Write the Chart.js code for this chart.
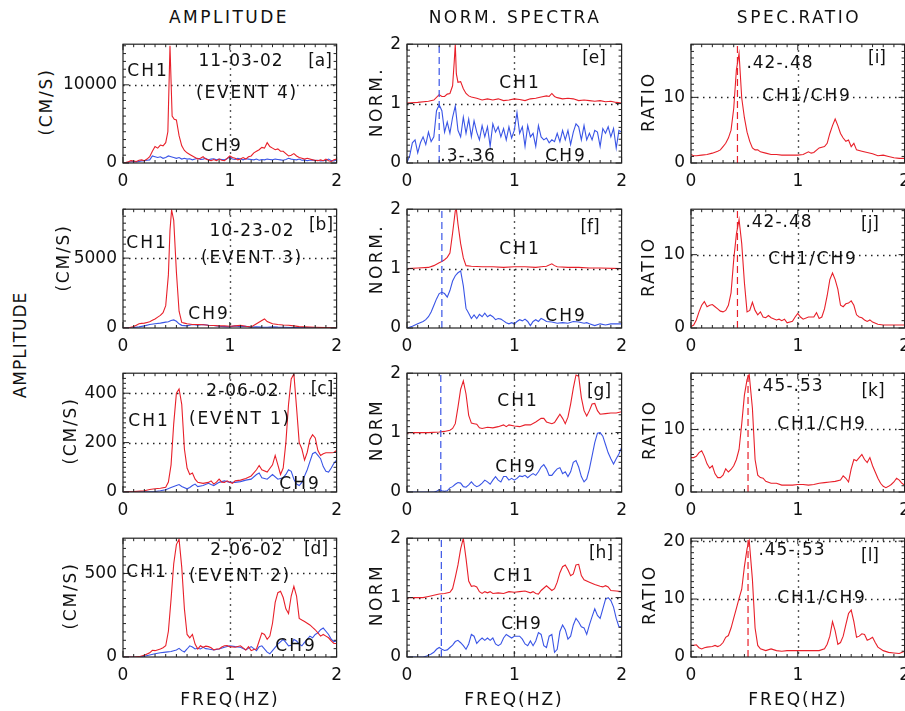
<!DOCTYPE html>
<html>
<head>
<meta charset="utf-8">
<script src="https://cdn.jsdelivr.net/npm/chart.js@4.4.0/dist/chart.umd.min.js"></script>
<style>
html, body { margin: 0; padding: 0; background: #fff; overflow: hidden; width: 905px; height: 711px; }
#page { position: relative; width: 905px; height: 711px; overflow: hidden; }
#page canvas { position: absolute; }
.lbl { position: absolute; font-family: 'DejaVu Sans', sans-serif; font-size: 17px; color: #111;
       white-space: nowrap; transform: translate(-50%, -50%); }
.rot { transform: translate(-50%, -50%) rotate(-90deg); }
</style>
</head>
<body>
<div id="page"></div>
<script>
const RED = '#e8202a'
const BLUE = '#3a55e6'
const FONT = "'DejaVu Sans', sans-serif"

//  x axis (Hz)
const X_TICKS = [0, 1, 2]

//  Amplitude spectra, [freq, cm/s]
const ampA_ch1 = [[0,0],[.025,50],[.05,150],[.075,300],[.1,250],[.125,200],[.15,350],[.175,400],[.2,300],[.225,500],[.25,800],[.275,1500],[.3,2100],[.325,1900],[.35,2300],[.375,2200],[.4,2600],[.42,4000],[.44,15000],[.46,6000],[.48,5600],[.5,5500],[.525,3500],[.55,2200],[.575,1600],[.6,1300],[.625,1100],[.65,900],[.675,700],[.7,500],[.725,600],[.75,800],[.775,500],[.8,400],[.825,300],[.85,450],[.875,300],[.9,500],[.925,350],[.95,300],[.975,600],[1,900],[1.025,700],[1.05,600],[1.075,400],[1.1,500],[1.125,700],[1.15,500],[1.175,800],[1.2,900],[1.225,1300],[1.25,1500],[1.275,1700],[1.3,2000],[1.325,1900],[1.35,2600],[1.375,2100],[1.4,1900],[1.425,1700],[1.45,1800],[1.475,1500],[1.5,1500],[1.525,1200],[1.55,900],[1.575,1000],[1.6,1200],[1.625,900],[1.65,700],[1.675,600],[1.7,500],[1.725,600],[1.75,500],[1.775,400],[1.8,350],[1.825,300],[1.85,400],[1.875,300],[1.9,500],[1.925,300],[1.95,200],[1.975,400],[2,500]]
const ampA_ch9 = [[0,0],[.025,50],[.05,100],[.075,150],[.1,200],[.125,150],[.15,200],[.175,250],[.2,300],[.225,350],[.25,400],[.275,900],[.3,800],[.325,700],[.35,800],[.375,600],[.4,700],[.425,900],[.45,800],[.475,700],[.5,600],[.525,700],[.55,500],[.575,600],[.6,500],[.625,550],[.65,400],[.675,500],[.7,600],[.725,450],[.75,500],[.775,600],[.8,400],[.825,500],[.85,550],[.875,400],[.9,500],[.925,450],[.95,400],[.975,550],[1,800],[1.025,500],[1.05,450],[1.075,600],[1.1,500],[1.125,400],[1.15,550],[1.175,500],[1.2,450],[1.225,400],[1.25,500],[1.275,350],[1.3,450],[1.325,400],[1.35,500],[1.375,450],[1.4,400],[1.425,500],[1.45,450],[1.475,400],[1.5,350],[1.525,450],[1.55,600],[1.575,500],[1.6,450],[1.625,400],[1.65,500],[1.675,350],[1.7,400],[1.725,300],[1.75,350],[1.775,400],[1.8,300],[1.825,350],[1.85,250],[1.875,300],[1.9,350],[1.925,500],[1.95,300],[1.975,250],[2,400]]

const ampB_ch1 = [[0,0],[.05,0],[.075,50],[.1,100],[.125,200],[.15,300],[.175,330],[.2,350],[.225,400],[.25,450],[.275,550],[.3,650],[.325,780],[.35,900],[.375,1100],[.4,1600],[.425,3800],[.44,7000],[.455,8450],[.475,7700],[.5,4000],[.525,1200],[.55,400],[.575,350],[.6,300],[.65,250],[.7,250],[.75,230],[.8,200],[.85,180],[.9,150],[.95,150],[1,120],[1.05,150],[1.1,185],[1.15,120],[1.2,70],[1.25,300],[1.3,530],[1.325,650],[1.35,460],[1.4,300],[1.45,250],[1.5,220],[1.55,200],[1.6,150],[1.65,100],[1.7,80],[1.8,50],[1.9,30],[2,20]]
const ampB_ch9 = [[0,0],[.1,30],[.15,80],[.2,150],[.25,250],[.3,300],[.35,350],[.4,420],[.425,450],[.45,530],[.475,580],[.5,480],[.525,300],[.55,190],[.6,150],[.65,250],[.7,200],[.75,250],[.8,200],[.85,180],[.9,120],[.95,100],[1,80],[1.05,150],[1.1,100],[1.15,120],[1.2,60],[1.25,80],[1.3,60],[1.35,50],[1.4,80],[1.45,60],[1.5,50],[1.6,40],[1.7,30],[1.8,20],[1.9,10],[2,10]]

const ampC_ch1 = [[0,0],[.1,2],[.2,5],[.25,10],[.3,13],[.35,15],[.4,19],[.425,40],[.45,110],[.475,277],[.5,400],[.525,417],[.55,355],[.575,174],[.6,97],[.625,71],[.65,77],[.675,52],[.7,39],[.75,35],[.8,39],[.825,45],[.85,32],[.875,40],[.9,52],[.925,40],[.95,39],[.975,45],[1,39],[1.025,35],[1.05,45],[1.1,48],[1.15,55],[1.2,65],[1.25,90],[1.275,107],[1.3,90],[1.35,81],[1.4,110],[1.425,148],[1.45,110],[1.475,71],[1.5,97],[1.525,200],[1.55,355],[1.575,458],[1.6,478],[1.625,342],[1.65,200],[1.675,174],[1.7,129],[1.725,161],[1.75,213],[1.775,232],[1.8,219],[1.825,168],[1.85,148],[1.875,155],[1.9,159],[1.95,159],[1.975,160],[2,168]]
const ampC_ch9 = [[0,0],[.3,2],[.35,5],[.4,9],[.45,18],[.5,26],[.525,30],[.55,22],[.6,13],[.625,18],[.65,26],[.675,32],[.7,22],[.75,26],[.8,35],[.825,30],[.85,26],[.9,39],[.95,45],[1,39],[1.05,39],[1.1,42],[1.15,48],[1.2,52],[1.25,71],[1.275,77],[1.3,58],[1.35,52],[1.4,71],[1.45,52],[1.5,58],[1.525,71],[1.55,90],[1.575,84],[1.6,52],[1.625,32],[1.65,26],[1.675,39],[1.7,65],[1.725,90],[1.75,123],[1.775,155],[1.8,161],[1.825,148],[1.85,135],[1.875,103],[1.9,84],[1.925,81],[1.95,97],[1.975,116],[2,129]]

const ampD_ch1 = [[0,0],[.1,0],[.15,2],[.2,10],[.25,25],[.275,40],[.3,38],[.35,48],[.375,55],[.4,67],[.425,154],[.45,346],[.475,558],[.5,673],[.525,705],[.55,538],[.575,288],[.6,135],[.625,115],[.65,135],[.675,77],[.7,48],[.725,67],[.75,58],[.775,65],[.8,62],[.825,55],[.85,42],[.875,48],[.9,48],[.925,60],[.95,67],[.975,68],[1,62],[1.05,58],[1.1,67],[1.125,55],[1.15,42],[1.175,62],[1.2,38],[1.225,45],[1.25,48],[1.275,96],[1.3,144],[1.325,135],[1.35,106],[1.375,125],[1.4,202],[1.425,327],[1.45,385],[1.475,394],[1.5,356],[1.525,288],[1.55,260],[1.575,365],[1.6,423],[1.625,365],[1.65,231],[1.675,221],[1.7,212],[1.725,202],[1.75,192],[1.775,177],[1.8,163],[1.825,144],[1.85,125],[1.875,135],[1.9,125],[1.925,115],[1.95,96],[1.975,81],[2,81]]
const ampD_ch9 = [[0,0],[.15,0],[.2,5],[.25,12],[.3,19],[.35,25],[.4,29],[.45,33],[.5,42],[.525,52],[.55,38],[.575,30],[.6,48],[.625,67],[.65,60],[.675,48],[.7,52],[.725,48],[.75,58],[.775,50],[.8,48],[.85,42],[.9,48],[.95,58],[1,67],[1.05,62],[1.1,58],[1.15,42],[1.2,62],[1.225,50],[1.25,38],[1.275,62],[1.3,67],[1.35,29],[1.375,19],[1.4,38],[1.45,77],[1.5,106],[1.525,87],[1.55,67],[1.575,70],[1.6,106],[1.625,96],[1.65,77],[1.675,67],[1.7,87],[1.725,106],[1.75,125],[1.775,115],[1.8,135],[1.825,144],[1.85,163],[1.875,173],[1.9,154],[1.925,135],[1.95,106],[1.975,92],[2,96]]

//  Normalised spectra (CH1 shifted up by 1)
const normE_ch1 = [[0,1.01],[.1,1.02],[.2,1.04],[.25,1.06],[.3,1.15],[.325,1.12],[.35,1.12],[.375,1.16],[.4,1.17],[.425,1.3],[.44,1.7],[.45,2.0],[.46,1.5],[.475,1.36],[.5,1.37],[.525,1.25],[.55,1.17],[.575,1.13],[.6,1.11],[.65,1.09],[.7,1.06],[.75,1.08],[.8,1.06],[.85,1.08],[.9,1.05],[.95,1.06],[1,1.08],[1.05,1.07],[1.1,1.05],[1.15,1.08],[1.2,1.09],[1.25,1.11],[1.3,1.13],[1.325,1.12],[1.35,1.17],[1.375,1.12],[1.4,1.1],[1.45,1.08],[1.5,1.09],[1.55,1.08],[1.6,1.05],[1.65,1.06],[1.7,1.05],[1.75,1.04],[1.8,1.05],[1.85,1.03],[1.9,1.04],[1.95,1.02],[2,1.01]]
const normE_ch9 = [[0,.01],[.025,.12],[.05,.34],[.075,.39],[.1,.17],[.125,.34],[.15,.44],[.175,.31],[.2,.52],[.225,.36],[.25,.44],[.275,.88],[.3,.98],[.325,.88],[.35,.52],[.375,.69],[.4,.5],[.425,.77],[.45,.96],[.475,.55],[.5,.44],[.525,.77],[.55,.5],[.575,.74],[.6,.44],[.625,.71],[.65,.52],[.675,.39],[.7,.63],[.725,.44],[.75,.61],[.775,.28],[.8,.66],[.825,.52],[.85,.61],[.875,.44],[.9,.58],[.925,.39],[.95,.61],[.975,.42],[1,.55],[1.025,.85],[1.05,.5],[1.075,.61],[1.1,.28],[1.125,.63],[1.15,.44],[1.175,.5],[1.2,.28],[1.225,.63],[1.25,.44],[1.275,.39],[1.3,.42],[1.325,.34],[1.35,.39],[1.375,.36],[1.4,.5],[1.425,.36],[1.45,.55],[1.475,.39],[1.5,.55],[1.525,.31],[1.55,.52],[1.575,.66],[1.6,.61],[1.625,.39],[1.65,.63],[1.675,.39],[1.7,.5],[1.725,.39],[1.75,.55],[1.775,.52],[1.8,.28],[1.825,.58],[1.85,.5],[1.875,.61],[1.9,.44],[1.925,.58],[1.95,.25],[1.975,.55],[2,.52]]

const normF_ch1 = [[0,1.0],[.1,1.01],[.2,1.02],[.25,1.05],[.3,1.1],[.325,1.12],[.35,1.15],[.375,1.19],[.4,1.26],[.425,1.6],[.45,1.97],[.46,2.0],[.475,1.75],[.5,1.42],[.525,1.18],[.55,1.05],[.6,1.04],[.7,1.03],[.8,1.03],[.9,1.02],[1,1.03],[1.1,1.03],[1.2,1.02],[1.25,1.03],[1.3,1.04],[1.35,1.08],[1.375,1.05],[1.4,1.03],[1.5,1.02],[1.6,1.02],[1.7,1.01],[1.8,1.01],[2,1.0]]
const normF_ch9 = [[0,0],[.05,.03],[.1,.07],[.15,.11],[.175,.14],[.2,.19],[.225,.27],[.25,.38],[.275,.49],[.3,.58],[.325,.6],[.35,.58],[.375,.52],[.4,.63],[.425,.79],[.45,.88],[.475,.93],[.5,.96],[.525,.71],[.55,.33],[.575,.25],[.6,.16],[.625,.22],[.65,.16],[.675,.23],[.7,.19],[.725,.25],[.75,.19],[.775,.22],[.8,.19],[.825,.14],[.85,.16],[.875,.15],[.9,.12],[.925,.09],[.95,.07],[.975,.09],[1,.07],[1.025,.11],[1.05,.14],[1.075,.12],[1.1,.15],[1.125,.11],[1.15,.04],[1.175,.11],[1.2,.14],[1.225,.11],[1.25,.16],[1.275,.14],[1.3,.11],[1.35,.1],[1.4,.08],[1.45,.09],[1.5,.08],[1.55,.11],[1.6,.1],[1.65,.08],[1.675,.09],[1.7,.07],[1.75,.04],[1.8,.07],[1.85,.05],[1.9,.07],[1.95,.07],[2,.07]]

const normG_ch1 = [[0,1.0],[.2,1.0],[.3,1.01],[.35,1.02],[.4,1.04],[.425,1.07],[.45,1.15],[.475,1.43],[.5,1.73],[.525,1.87],[.55,1.65],[.575,1.29],[.6,1.16],[.625,1.15],[.65,1.14],[.675,1.08],[.7,1.07],[.75,1.09],[.8,1.08],[.85,1.1],[.9,1.13],[.925,1.1],[.95,1.13],[1,1.11],[1.05,1.1],[1.1,1.13],[1.15,1.13],[1.2,1.18],[1.25,1.24],[1.275,1.24],[1.3,1.18],[1.35,1.15],[1.375,1.17],[1.4,1.24],[1.425,1.31],[1.45,1.24],[1.475,1.15],[1.5,1.26],[1.525,1.48],[1.55,1.75],[1.575,1.97],[1.6,1.95],[1.625,1.59],[1.65,1.37],[1.675,1.28],[1.7,1.37],[1.725,1.48],[1.75,1.49],[1.775,1.37],[1.8,1.31],[1.85,1.32],[1.9,1.33],[1.95,1.33],[2,1.35]]
const normG_ch9 = [[0,0],[.25,0],[.275,.01],[.3,.04],[.325,.02],[.35,.01],[.375,.02],[.4,.07],[.425,.09],[.45,.13],[.475,.16],[.5,.15],[.525,.09],[.55,.08],[.575,.12],[.6,.17],[.625,.12],[.65,.09],[.675,.11],[.7,.15],[.725,.2],[.75,.17],[.775,.13],[.8,.2],[.825,.26],[.85,.2],[.875,.17],[.9,.26],[.925,.26],[.95,.2],[.975,.23],[1,.2],[1.025,.23],[1.05,.27],[1.075,.26],[1.1,.28],[1.125,.24],[1.15,.28],[1.175,.31],[1.2,.28],[1.225,.34],[1.25,.42],[1.275,.46],[1.3,.39],[1.325,.28],[1.35,.28],[1.375,.34],[1.4,.39],[1.425,.41],[1.45,.31],[1.475,.34],[1.5,.26],[1.525,.34],[1.55,.5],[1.575,.53],[1.6,.42],[1.625,.26],[1.65,.17],[1.675,.22],[1.7,.39],[1.725,.61],[1.75,.83],[1.775,.99],[1.8,1.0],[1.825,.94],[1.85,.8],[1.875,.66],[1.9,.56],[1.925,.47],[1.95,.56],[1.975,.64],[2,.75]]

const normH_ch1 = [[0,1.0],[.15,1.0],[.2,1.02],[.25,1.04],[.3,1.06],[.35,1.07],[.4,1.09],[.425,1.15],[.45,1.34],[.475,1.55],[.5,1.82],[.525,2.0],[.55,1.66],[.575,1.28],[.6,1.19],[.625,1.2],[.65,1.18],[.675,1.1],[.7,1.07],[.725,1.1],[.75,1.08],[.775,1.1],[.8,1.07],[.85,1.08],[.9,1.07],[.95,1.1],[1,1.09],[1.05,1.1],[1.1,1.11],[1.15,1.08],[1.175,1.1],[1.2,1.07],[1.225,1.06],[1.25,1.12],[1.3,1.2],[1.35,1.12],[1.375,1.15],[1.4,1.26],[1.425,1.42],[1.45,1.52],[1.475,1.55],[1.5,1.47],[1.525,1.37],[1.55,1.4],[1.575,1.55],[1.6,1.56],[1.625,1.37],[1.65,1.3],[1.7,1.26],[1.75,1.22],[1.8,1.19],[1.825,1.18],[1.85,1.2],[1.875,1.18],[1.9,1.12],[1.95,1.11],[2,1.1]]
const normH_ch9 = [[0,0],[.15,0],[.175,.01],[.2,.03],[.225,.05],[.25,.08],[.275,.13],[.3,.16],[.325,.13],[.35,.11],[.375,.12],[.4,.16],[.425,.2],[.45,.26],[.475,.28],[.5,.24],[.525,.19],[.55,.13],[.575,.22],[.6,.38],[.625,.35],[.65,.23],[.675,.28],[.7,.32],[.725,.28],[.75,.32],[.775,.28],[.8,.32],[.825,.22],[.85,.19],[.875,.22],[.9,.32],[.925,.38],[.95,.35],[.975,.32],[1,.35],[1.05,.35],[1.075,.3],[1.1,.22],[1.125,.19],[1.15,.27],[1.175,.19],[1.2,.27],[1.225,.41],[1.25,.38],[1.275,.19],[1.3,.16],[1.325,.35],[1.35,.38],[1.375,.08],[1.4,.13],[1.425,.43],[1.45,.54],[1.475,.46],[1.5,.3],[1.525,.35],[1.55,.54],[1.575,.65],[1.6,.59],[1.625,.51],[1.65,.49],[1.675,.38],[1.7,.54],[1.725,.68],[1.75,.81],[1.775,.7],[1.8,.65],[1.825,.81],[1.85,.97],[1.875,1.0],[1.9,.95],[1.925,.84],[1.95,.65],[1.975,.51],[2,.51]]

//  Spectral ratios CH1/CH9
const ratioI = [[0,1.3],[.025,1.1],[.05,1.1],[.1,1.2],[.15,1.3],[.2,1.5],[.25,1.8],[.275,2.0],[.3,2.5],[.325,3.0],[.35,3.8],[.375,5.0],[.4,8.3],[.425,14.2],[.45,16.7],[.475,9.9],[.5,6.9],[.525,4.7],[.55,3.3],[.575,2.3],[.6,2.0],[.625,2.0],[.65,1.7],[.7,1.5],[.75,1.3],[.8,1.3],[.85,1.2],[.9,1.2],[.95,1.2],[1,1.2],[1.05,1.3],[1.1,1.7],[1.125,1.5],[1.15,1.6],[1.2,2.3],[1.25,2.5],[1.275,3.0],[1.3,4.5],[1.325,5.7],[1.35,6.7],[1.375,5.7],[1.4,4.5],[1.425,3.8],[1.45,3.3],[1.475,3.5],[1.5,2.5],[1.525,3.0],[1.55,2.0],[1.6,1.8],[1.65,1.6],[1.7,1.4],[1.75,1.1],[1.8,1.2],[1.85,1.0],[1.9,.8],[1.95,.7],[2,.7]]
const ratioJ = [[0,.2],[.025,.4],[.05,1.1],[.075,2.2],[.1,3.1],[.125,3.6],[.15,2.9],[.175,3.1],[.2,3.2],[.225,2.9],[.25,2.6],[.275,2.3],[.3,2.2],[.325,2.4],[.35,3.1],[.375,4.8],[.4,9.3],[.425,12.8],[.45,14.8],[.475,11.5],[.5,6.2],[.525,2.2],[.55,2.4],[.575,3.5],[.6,2.4],[.625,1.8],[.65,2.2],[.675,1.5],[.7,1.4],[.725,1.7],[.75,1.4],[.8,1.1],[.825,1.2],[.85,1.0],[.875,1.2],[.9,.7],[.95,.9],[.975,1.5],[1,2.0],[1.025,1.5],[1.05,1.2],[1.1,1.5],[1.15,1.5],[1.175,2.1],[1.2,1.3],[1.225,1.5],[1.25,2.6],[1.275,4.4],[1.3,6.6],[1.325,7.5],[1.35,6.6],[1.375,5.3],[1.4,3.1],[1.425,2.9],[1.45,3.3],[1.475,3.4],[1.5,3.7],[1.525,3.1],[1.55,1.8],[1.575,1.5],[1.6,1.4],[1.625,1.1],[1.65,.9],[1.675,1.1],[1.7,.8],[1.75,.5],[1.8,.4],[1.85,.4],[1.9,.4],[1.95,.4],[2,.4]]
const ratioK = [[0,5.5],[.025,5.5],[.05,5.7],[.075,6.3],[.1,6.6],[.125,5.7],[.15,4.5],[.175,3.8],[.2,4.2],[.225,2.9],[.25,2.3],[.275,2.3],[.3,2.7],[.325,3.7],[.35,3.2],[.375,3.6],[.4,4.2],[.425,5.2],[.45,6.8],[.475,10.9],[.5,15.5],[.525,18.0],[.545,18.8],[.575,13.4],[.6,5.2],[.625,2.7],[.65,2.3],[.675,2.2],[.7,1.7],[.75,1.4],[.8,1.4],[.85,1.1],[.9,1.1],[.95,1.1],[1,1.2],[1.05,1.2],[1.1,1.1],[1.15,1.2],[1.2,1.4],[1.25,1.5],[1.3,1.6],[1.35,1.7],[1.4,1.9],[1.425,2.6],[1.45,2.2],[1.475,1.6],[1.5,3.7],[1.525,5.2],[1.55,5.0],[1.575,5.5],[1.6,6.0],[1.625,5.2],[1.65,4.7],[1.675,5.5],[1.7,4.2],[1.725,3.2],[1.75,2.2],[1.775,1.4],[1.8,.9],[1.825,.7],[1.85,.9],[1.875,1.2],[1.9,1.6],[1.925,2.2],[1.95,1.9],[1.975,1.4],[2,1.1]]
const ratioL = [[0,2.0],[.025,2.0],[.05,2.1],[.075,1.6],[.1,1.4],[.125,1.6],[.15,1.7],[.2,1.8],[.225,2.0],[.25,1.8],[.275,2.0],[.3,2.5],[.325,3.4],[.35,3.7],[.375,5.0],[.4,6.7],[.425,8.4],[.45,10.1],[.475,11.7],[.5,15.6],[.525,18.7],[.545,20.1],[.575,13.4],[.6,5.0],[.625,2.0],[.65,1.4],[.7,1.1],[.75,1.4],[.8,1.1],[.85,1.0],[.9,1.1],[1,1.1],[1.1,1.1],[1.2,1.1],[1.25,1.4],[1.275,2.2],[1.3,3.6],[1.325,6.1],[1.35,4.5],[1.375,2.2],[1.4,2.5],[1.425,3.6],[1.45,5.6],[1.475,7.5],[1.5,8.1],[1.525,6.1],[1.55,3.4],[1.575,3.6],[1.6,4.0],[1.625,3.9],[1.65,2.9],[1.675,3.1],[1.7,3.4],[1.725,2.5],[1.75,1.7],[1.8,1.1],[1.85,.8],[1.9,.7],[1.95,.6],[2,1.0]]


//  Layout

const COL_X = [123, 407, 691]
const COL_W = [215, 216, 215]
const ROW_Y = [40, 205, 369, 534]
const ROW_H = 123
const PAD_L = 60, PAD_T = 12, PAD_R = 12, PAD_B = 40

const panels = [
    { col: 0, row: 0, yMax: 15200, yTicks: [0, 10000], yGrid: [10000], yMinor: 1000, lines: [[ampA_ch1, RED], [ampA_ch9, BLUE]] },
    { col: 0, row: 1, yMax: 8500,  yTicks: [0, 5000],  yGrid: [5000],  yMinor: 500,  lines: [[ampB_ch1, RED], [ampB_ch9, BLUE]] },
    { col: 0, row: 2, yMax: 481,   yTicks: [0, 200, 400], yGrid: [200, 400], yMinor: 20, lines: [[ampC_ch1, RED], [ampC_ch9, BLUE]] },
    { col: 0, row: 3, yMax: 711,   yTicks: [0, 500],   yGrid: [500],   yMinor: 50,   lines: [[ampD_ch1, RED], [ampD_ch9, BLUE]] },
    { col: 1, row: 0, yMax: 2, yTicks: [0, 1, 2], yGrid: [1], yMinor: 0.1, lines: [[normE_ch1, RED], [normE_ch9, BLUE]], mark: [0.30, BLUE] },
    { col: 1, row: 1, yMax: 2, yTicks: [0, 1, 2], yGrid: [1], yMinor: 0.1, lines: [[normF_ch1, RED], [normF_ch9, BLUE]], mark: [0.325, BLUE] },
    { col: 1, row: 2, yMax: 2, yTicks: [0, 1, 2], yGrid: [1], yMinor: 0.1, lines: [[normG_ch1, RED], [normG_ch9, BLUE]], mark: [0.315, BLUE] },
    { col: 1, row: 3, yMax: 2, yTicks: [0, 1, 2], yGrid: [1], yMinor: 0.1, lines: [[normH_ch1, RED], [normH_ch9, BLUE]], mark: [0.32, BLUE] },
    { col: 2, row: 0, yMax: 18.1, yTicks: [0, 10], yGrid: [10], yMinor: 1, lines: [[ratioI, RED]], mark: [0.435, RED] },
    { col: 2, row: 1, yMax: 16.2, yTicks: [0, 10], yGrid: [10], yMinor: 1, lines: [[ratioJ, RED]], mark: [0.435, RED] },
    { col: 2, row: 2, yMax: 19,   yTicks: [0, 10], yGrid: [10], yMinor: 1, lines: [[ratioK, RED]], mark: [0.534, RED] },
    { col: 2, row: 3, yMax: 20.5, yTicks: [0, 10, 20], yGrid: [10, 20], yMinor: 1, lines: [[ratioL, RED]], mark: [0.534, RED] },
]

//  text: [string, centre x, centre y, letter spacing, rotated]
const notes = [
    ['AMPLITUDE', 229, 17, 2.5], ['NORM. SPECTRA', 515, 17, 2.5], ['SPEC.RATIO', 799, 17, 2.5],
    ['AMPLITUDE', 20, 345, 1, true],
    ['(CM/S)', 46, 102, 1.8, true], ['(CM/S)', 63, 258, 1.8, true], ['(CM/S)', 70, 431, 1.8, true], ['(CM/S)', 70, 596, 1.8, true],
    ['NORM.', 376, 102, 2.5, true], ['NORM.', 376, 259, 2.5, true], ['NORM', 376, 430, 2.5, true], ['NORM', 376, 595, 2.5, true],
    ['RATIO', 648, 102, 2, true], ['RATIO', 648, 267, 2, true], ['RATIO', 649, 430, 2, true], ['RATIO', 649, 595, 2, true],
    ['FREQ(HZ)', 230, 699, 2], ['FREQ(HZ)', 514, 699, 2], ['FREQ(HZ)', 798, 699, 2],
    // [a]
    ['CH1', 148, 70, 2], ['11-03-02', 241, 60, 1], ['[a]', 320, 60, 0], ['(EVENT 4)', 247, 92, 1.8], ['CH9', 222, 145, 2],
    // [b]
    ['CH1', 147, 242, 2], ['10-23-02', 252, 230, 1], ['[b]', 321, 224, 0], ['(EVENT 3)', 252, 257, 1.8], ['CH9', 209, 313, 2],
    // [c]
    ['CH1', 149, 420, 2], ['2-06-02', 243, 390, 1], ['[c]', 322, 388, 0], ['(EVENT 1)', 240, 418, 1.8], ['CH9', 300, 483, 2],
    // [d]
    ['CH1', 147, 571, 2], ['2-06-02', 247, 549, 1], ['[d]', 316, 548, 0], ['(EVENT 2)', 240, 575, 1.8], ['CH9', 296, 645, 2],
    // [e]-[h]
    ['[e]', 594, 57, 0], ['CH1', 520, 82, 2], ['.3-.36', 468, 155, 1], ['CH9', 566, 155, 2],
    ['[f]', 590, 226, 0], ['CH1', 520, 248, 2], ['CH9', 566, 315, 2],
    ['[g]', 599, 390, 0], ['CH1', 518, 400, 2], ['CH9', 516, 466, 2],
    ['[h]', 601, 552, 0], ['CH1', 514, 575, 2], ['CH9', 522, 623, 2],
    // [i]-[l]
    ['.42-.48', 780, 62, 1], ['[i]', 877, 57, 0], ['CH1/CH9', 807, 95, 1.8],
    ['.42-.48', 779, 221, 1], ['[j]', 870, 223, 0], ['CH1/CH9', 813, 258, 1.8],
    ['.45-.53', 790, 385, 1], ['[k]', 873, 390, 0], ['CH1/CH9', 822, 423, 1.8],
    ['.45-.53', 792, 549, 1], ['[l]', 870, 555, 0], ['CH1/CH9', 822, 597, 1.8],
]


//  Frame, ticks, dotted grid and marker line (IDL style box)

const framePlugin = {
    id: 'frame',
    beforeDatasetsDraw(chart, args, o) {
        const { ctx, chartArea: a, scales: { x, y } } = chart
        ctx.save()
        ctx.strokeStyle = '#222'
        ctx.lineWidth = 1.4
        ctx.setLineDash([1.5, 4.5])
        ctx.beginPath()
        const px = Math.round(x.getPixelForValue(1)) + 0.5
        ctx.moveTo(px, a.top); ctx.lineTo(px, a.bottom)
        o.yGrid.forEach(v => {
            const py = Math.round(y.getPixelForValue(v)) + 0.5
            ctx.moveTo(a.left, py); ctx.lineTo(a.right, py)
        })
        ctx.stroke()
        ctx.restore()
    },
    afterDatasetsDraw(chart, args, o) {
        const { ctx, chartArea: a, scales: { x, y } } = chart
        ctx.save()
        if (o.mark) {
            ctx.strokeStyle = o.mark[1]
            ctx.lineWidth = 1.2
            ctx.setLineDash([7, 4])
            const mx = x.getPixelForValue(o.mark[0])
            ctx.beginPath(); ctx.moveTo(mx, a.bottom); ctx.lineTo(mx, a.top); ctx.stroke()
        }
        ctx.setLineDash([])
        ctx.strokeStyle = '#222'
        ctx.lineWidth = 1.2
        ctx.strokeRect(a.left, a.top, a.right - a.left, a.bottom - a.top)
        ctx.lineWidth = 1
        ctx.beginPath()
        for (let i = 0; i <= 20; i++) {
            const tx = x.getPixelForValue(i / 10)
            const len = i % 10 === 0 ? 6 : 3
            ctx.moveTo(tx, a.bottom); ctx.lineTo(tx, a.bottom - len)
            ctx.moveTo(tx, a.top); ctx.lineTo(tx, a.top + len)
        }
        const n = Math.floor(y.max / o.yMinor + 1e-6)
        for (let i = 0; i <= n; i++) {
            const v = i * o.yMinor
            const ty = y.getPixelForValue(v)
            const len = o.yTicks.some(t => Math.abs(t - v) < 1e-6) ? 6 : 3
            ctx.moveTo(a.left, ty); ctx.lineTo(a.left + len, ty)
            ctx.moveTo(a.right, ty); ctx.lineTo(a.right - len, ty)
        }
        ctx.stroke()
        ctx.restore()
    }
}


//  Build the twelve panels

const page = document.querySelector('#page')
const tickFont = { family: FONT, size: 17 }

panels.forEach(p => {
    const cv = document.createElement('canvas')
    const w = COL_W[p.col] + PAD_L + PAD_R
    const h = ROW_H + PAD_T + PAD_B
    cv.width = w
    cv.height = h
    cv.style.width = w + 'px'
    cv.style.height = h + 'px'
    cv.style.left = (COL_X[p.col] - PAD_L) + 'px'
    cv.style.top = (ROW_Y[p.row] - PAD_T) + 'px'
    page.appendChild(cv)

    new Chart(cv.getContext('2d'), {
        type: 'line',
        data: {
            datasets: p.lines.map(([d, c]) => ({
                data: d, borderColor: c, borderWidth: 1.1, pointRadius: 0, fill: false, tension: 0
            }))
        },
        options: {
            responsive: false,
            animation: false,
            devicePixelRatio: 1,
            events: [],
            layout: { padding: { top: PAD_T, right: PAD_R, left: 0, bottom: 0 } },
            plugins: {
                legend: { display: false },
                tooltip: { enabled: false },
                frame: { yGrid: p.yGrid, yMinor: p.yMinor, yTicks: p.yTicks, mark: p.mark }
            },
            scales: {
                x: {
                    type: 'linear', min: 0, max: 2,
                    grid: { display: false, drawTicks: false },
                    border: { display: false },
                    afterBuildTicks: s => { s.ticks = X_TICKS.map(v => ({ value: v })) },
                    afterFit: s => { s.height = PAD_B },
                    ticks: { font: tickFont, color: '#111', padding: 8, maxRotation: 0, autoSkip: false, callback: v => String(v) }
                },
                y: {
                    type: 'linear', min: 0, max: p.yMax,
                    grid: { display: false, drawTicks: false },
                    border: { display: false },
                    afterBuildTicks: s => { s.ticks = p.yTicks.map(v => ({ value: v })) },
                    afterFit: s => { s.width = PAD_L },
                    ticks: { font: tickFont, color: '#111', padding: 6, autoSkip: false, callback: v => String(v) }
                }
            }
        },
        plugins: [framePlugin]
    })
})

notes.forEach(([t, x, y, ls, rot]) => {
    const el = document.createElement('div')
    el.className = rot ? 'lbl rot' : 'lbl'
    el.textContent = t
    el.style.left = x + 'px'
    el.style.top = y + 'px'
    el.style.letterSpacing = ls + 'px'
    page.appendChild(el)
})
</script>
</body>
</html>
